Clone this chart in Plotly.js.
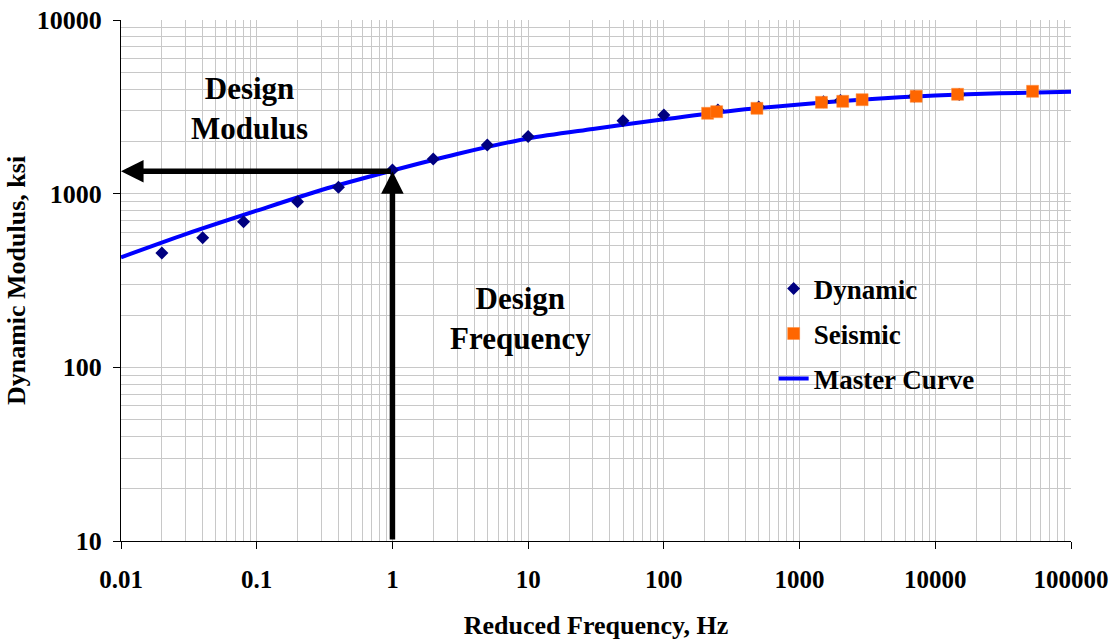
<!DOCTYPE html>
<html><head><meta charset="utf-8">
<script src="https://cdn.plot.ly/plotly-3.0.1.min.js"></script>
<style>html,body{margin:0;padding:0;background:#fff}#chart{width:1113px;height:640px}</style>
</head><body><div id="chart"></div>
<script>
// Dynamic modulus test data (Hz, ksi)
const dynamicFreq = [0.02, 0.04, 0.08, 0.2, 0.4, 1, 2, 5, 10, 50, 100, 250, 500, 1500, 2000, 7000, 15000];
const dynamicMod  = [455, 558, 690, 899, 1088, 1369, 1584, 1906, 2134, 2632, 2838, 3030, 3155, 3380, 3440, 3640, 3720];
// Seismic test data
const seismicFreq = [210, 245, 485, 1450, 2080, 2890, 7230, 14600, 52100];
const seismicMod  = [2903, 2965, 3101, 3358, 3403, 3476, 3637, 3735, 3886];
// Master curve
const masterFreq = [0.01, 0.03, 0.1, 0.3, 1, 3, 10, 30, 100, 300, 1000, 3000, 10000, 30000, 100000];
const masterMod  = [430, 585, 798, 1050, 1359, 1692, 2079, 2357, 2681, 2986, 3266, 3485, 3675, 3784, 3867];
// Design point
const designFreq = 1;
const designModulus = 1345;
// Tick labels
const xTickVals = [0.01, 0.1, 1, 10, 100, 1000, 10000, 100000];
const xTickText = ['0.01', '0.1', '1', '10', '100', '1000', '10000', '100000'];
const yTickVals = [10, 100, 1000, 10000];
const yTickText = ['10', '100', '1000', '10000'];

const FAM = 'Liberation Serif, Times New Roman, serif';
const GRID = '#c8c8c8';
const font = (s) => ({family: FAM, size: s, color: '#000', weight: 'bold'});

const traces = [
  {x: masterFreq, y: masterMod, type: 'scatter', mode: 'lines', name: 'Master Curve',
   line: {color: '#0000ff', width: 4, shape: 'spline', smoothing: 0.8},
   legendgroup: 'c', legendrank: 3},
  {x: dynamicFreq, y: dynamicMod, type: 'scatter', mode: 'markers', name: 'Dynamic',
   marker: {symbol: 'diamond', size: 10, color: '#000080'},
   legendgroup: 'a', legendrank: 1},
  {x: seismicFreq, y: seismicMod, type: 'scatter', mode: 'markers', name: 'Seismic',
   marker: {symbol: 'square', size: 12, color: '#ff6600', line: {color: '#ff8a3a', width: 0.5}},
   legendgroup: 'b', legendrank: 2}
];

const axisCommon = {
  type: 'log', ticks: 'outside', ticklen: 7, tickcolor: '#000', tickwidth: 1,
  showline: true, linecolor: '#000', linewidth: 1, mirror: false,
  showgrid: true, gridcolor: GRID, gridwidth: 1, zeroline: false,
  tickfont: font(25), automargin: false,
  minor: {dtick: 'D1', showgrid: true, gridcolor: GRID, gridwidth: 1, ticks: ''}
};

const layout = {
  width: 1113, height: 640,
  margin: {l: 121, r: 42, t: 20, b: 99, pad: 0},
  paper_bgcolor: '#fff', plot_bgcolor: '#fff',
  showlegend: true,
  xaxis: Object.assign({}, axisCommon, {
    range: [-2, 5], tickmode: 'array', tickvals: xTickVals, ticktext: xTickText,
    ticklabelstandoff: 9,
    title: {text: 'Reduced Frequency, Hz', font: font(26), standoff: 28}
  }),
  yaxis: Object.assign({}, axisCommon, {
    range: [1, 4], tickmode: 'array', tickvals: yTickVals, ticktext: yTickText,
    ticklabelstandoff: 6, tickfont: font(26), automargin: 'left',
    title: {text: 'Dynamic Modulus, ksi', font: font(26), standoff: 3}
  }),
  legend: {
    x: 0.687, y: 0.531, xanchor: 'left', yanchor: 'top',
    bgcolor: 'rgba(0,0,0,0)', borderwidth: 0,
    font: font(27), traceorder: 'grouped', tracegroupgap: 7
  },
  shapes: [
    {type: 'rect', xref: 'paper', yref: 'paper', x0: 0.6586, x1: 0.917, y0: 0.267, y1: 0.5317,
     fillcolor: '#fff', line: {width: 0}, layer: 'between'}
  ],
  annotations: [
    {x: Math.log10(xTickVals[0]), y: Math.log10(designModulus), ax: Math.log10(designFreq), ay: Math.log10(designModulus),
     xref: 'x', yref: 'y', axref: 'x', ayref: 'y', text: '', showarrow: true,
     arrowhead: 2, arrowsize: 0.82, arrowwidth: 5.5, arrowcolor: '#000', standoff: 0},
    {x: Math.log10(designFreq), y: Math.log10(designModulus), ax: Math.log10(designFreq), ay: Math.log10(yTickVals[0]),
     xref: 'x', yref: 'y', axref: 'x', ayref: 'y', text: '', showarrow: true,
     arrowhead: 2, arrowsize: 0.82, arrowwidth: 5.5, arrowcolor: '#000', standoff: 0},
    {xref: 'paper', yref: 'paper', x: 0.135, y: 0.83, text: 'Design<br>Modulus', showarrow: false,
     font: font(31), align: 'center', xanchor: 'center', yanchor: 'middle'},
    {xref: 'paper', yref: 'paper', x: 0.421, y: 0.427, text: 'Design<br>Frequency', showarrow: false,
     font: font(31), align: 'center', xanchor: 'center', yanchor: 'middle'}
  ]
};

Plotly.newPlot('chart', traces, layout, {displayModeBar: false, staticPlot: true});
</script>
</body></html>
